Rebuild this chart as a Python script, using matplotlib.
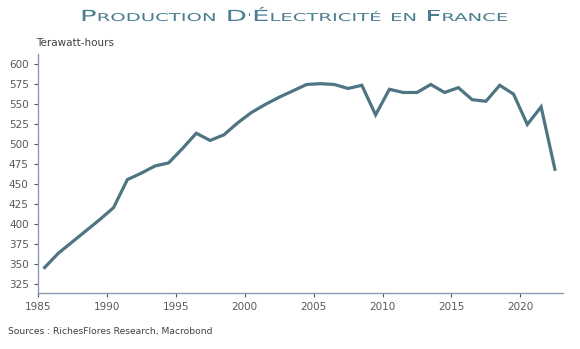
import numpy as np
import matplotlib.pyplot as plt
from matplotlib.patheffects import AbstractPathEffect
from matplotlib.transforms import Affine2D

# production d'electricite en France (TWh), annual values
years = list(range(1985, 2023))
twh = [346, 364, 378, 392, 406, 421, 456, 464, 473, 477, 495, 514, 505, 512, 527,
       540, 550, 559, 567, 575, 576, 575, 570, 574, 537, 569, 565, 565, 575, 565,
       571, 556, 554, 574, 563, 525, 547, 469]

yticks = list(range(325, 601, 25))
xticks = list(range(1985, 2021, 5))

line_color = "#4f7482"
title_color = "#4a7d90"
text_color = "#404040"
spine_color = "#8a9bb5"


class Stretch(AbstractPathEffect):
    # widen glyphs horizontally around the text anchor
    def __init__(self, sx):
        super().__init__()
        self.sx = sx

    def draw_path(self, renderer, gc, tpath, affine, rgbFace=None):
        x0 = affine.get_matrix()[0, 2]
        aff = affine + Affine2D().translate(-x0, 0).scale(self.sx, 1).translate(x0, 0)
        renderer.draw_path(gc, tpath, aff, rgbFace)


fig = plt.figure(figsize=(5.8, 3.49), dpi=100)
ax = fig.add_axes([0.065, 0.16, 0.906, 0.685])

# annual points sit at mid-year
x = np.array(years) + 0.5
ax.plot(x, twh, color=line_color, lw=2.3, solid_joinstyle="miter")

ax.set_xlim(1985, 2023.1)
ax.set_ylim(314, 613)
ax.set_xticks(xticks)
ax.set_yticks(yticks)
ax.tick_params(labelsize=7.5, labelcolor="#595959", color="#595959", length=3, width=0.8)
for s in ["top", "right"]:
    ax.spines[s].set_visible(False)
for s in ["left", "bottom"]:
    ax.spines[s].set_color(spine_color)
    ax.spines[s].set_linewidth(1.0)

fig.text(0.063, 0.862, "Terawatt-hours", fontsize=7.5, color=text_color, va="bottom")
fig.text(0.014, 0.05, "Sources : RichesFlores Research, Macrobond", fontsize=6.6,
         color=text_color, va="center")

# small caps title: runs of big / small capitals, stretched wide
runs = [[("P", 1), ("RODUCTION", 0)],
        [("D", 1), ("'", 0), ("É", 1), ("LECTRICITÉ", 0)],
        [("EN", 0)],
        [("F", 1), ("RANCE", 0)]]
big, small = 11, 7.8
target = 418
space_px = 4.5
fig.canvas.draw()
r = fig.canvas.get_renderer()
W = fig.bbox.width
base = 1 - 21 / 349
pieces = []
for word in runs:
    row = []
    for txt, cap in word:
        t = fig.text(0, base, txt, fontsize=big if cap else small,
                     color=title_color, va="baseline", ha="left")
        row.append((t, t.get_window_extent(r).width))
    pieces.append(row)
natural = sum(w for row in pieces for _, w in row)
sx = (target - space_px * (len(runs) - 1)) / natural
xpos = 289 - target / 2
for row in pieces:
    for t, w in row:
        t.set_x(xpos / W)
        t.set_path_effects([Stretch(sx)])
        xpos += w * sx
    xpos += space_px * sx

plt.savefig("out.png", dpi=100)
